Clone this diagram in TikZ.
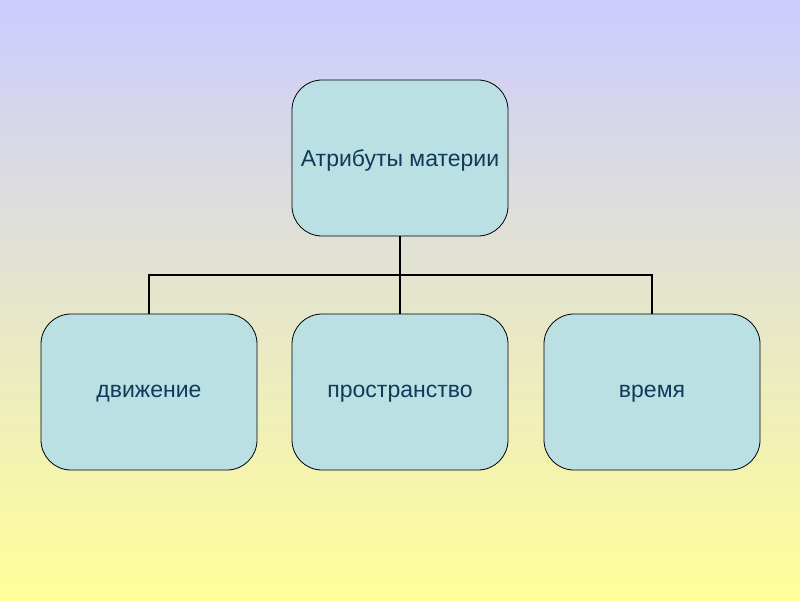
\documentclass[tikz,border=0pt]{standalone}
\usepackage{fontspec}
\setmainfont{Liberation Sans}
\definecolor{bgtop}{HTML}{CCCCFF}
\definecolor{bgbot}{HTML}{FFFF99}
\definecolor{boxfill}{HTML}{BBE0E3}
\definecolor{txt}{HTML}{10395A}
\begin{document}
\begin{tikzpicture}[x=1pt,y=-1pt,
  box/.style={draw=black, line width=0.8pt, fill=boxfill, rounded corners=30pt,
    minimum width=216pt, minimum height=156pt, inner sep=0pt,
    text=txt, font=\fontsize{23}{27}\selectfont},
  lbl/.style={text=txt, font=\fontsize{23}{27}\selectfont, inner sep=0pt},
  conn/.style={draw=black, line width=1.8pt}]
\shade[top color=bgtop, bottom color=bgbot] (0,0) rectangle (800,600);
\useasboundingbox (0,0) rectangle (800,600);
\node[box] (top) at (400,158) {};
\node[box] (b1) at (149,392) {};
\node[box] (b2) at (400,392) {};
\node[box] (b3) at (652,392) {};
\node[lbl] (ttop) at ([yshift=-2pt]top.center) {Атрибуты материи};
\node[lbl] (t1) at ([yshift=-2pt]b1.center) {движение};
\node[lbl] (t2) at ([yshift=-2pt]b2.center) {пространство};
\node[lbl] (t3) at ([yshift=-2pt]b3.center) {время};
\coordinate (j) at (400,275);
\draw[conn] (top.south) -- (j);
\draw[conn] (b1.north) |- (j) -| (b3.north);
\draw[conn] (j) -- (b2.north);
\end{tikzpicture}
\end{document}
